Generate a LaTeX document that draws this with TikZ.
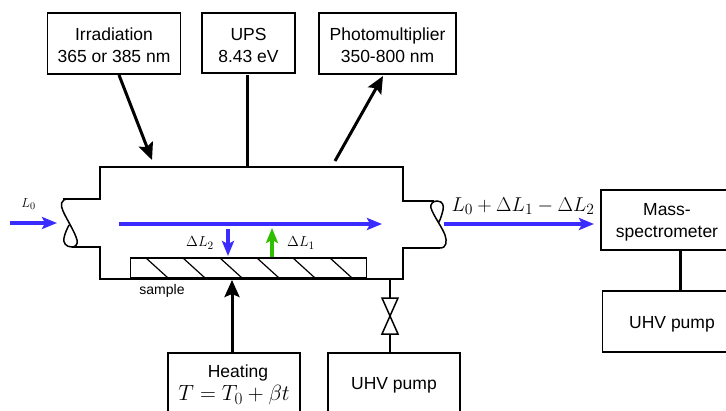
\documentclass[tikz,border=0pt]{standalone}
\usepackage{fix-cm}
\usepackage[no-math]{fontspec}
\setmainfont{Liberation Sans}
\usetikzlibrary{arrows.meta}
\renewcommand{\defaultscriptratio}{.78}
\newcommand{\topstrut}{\rule{0pt}{17pt}}
\definecolor{beamblue}{RGB}{58,44,255}
\definecolor{beamgreen}{RGB}{48,190,0}
\tikzset{
        unitbox/.style={draw, line width=1.7pt, align=center, inner sep=0pt, font=\fontsize{17.5}{22}\selectfont},
        wall/.style={line width=1.7pt},
        feed/.style={line width=3pt},
        feedarrow/.style={line width=3pt, -{Stealth[length=17pt, width=15pt, inset=3pt]}},
        beam/.style={beamblue, line width=4pt, -{Stealth[length=15pt, width=12pt, inset=3pt]}},
        smallbeam/.style={line width=4pt, -{Stealth[length=15pt, width=12pt, inset=3pt]}},
        symbol/.style={inner sep=0pt, font=\fontsize{14.5}{18}\selectfont}
}
\begin{document}
\begin{tikzpicture}[x=1pt, y=-1pt]
        \clip (0, 0) rectangle (726, 410);
        \node [unitbox, minimum width=133pt, minimum height=61pt] (irradiation) at (114, 43.5) {\topstrut Irradiation\\365 or 385 nm};
        \node [unitbox, minimum width=93pt, minimum height=60pt] (ups) at (248.5, 43) {\topstrut UPS\\8.43 eV};
        \node [unitbox, minimum width=137pt, minimum height=61pt] (photomultiplier) at (387.5, 43.5) {\topstrut Photomultiplier\\350-800 nm};
        \node [unitbox, minimum width=132pt, minimum height=60pt] (massspec) at (667, 220) {\topstrut Mass-\\spectrometer};
        \node [unitbox, minimum width=139pt, minimum height=60.5pt] (pumpright) at (672, 321.5) {\topstrut UHV pump};
        \node [unitbox, minimum width=132pt, minimum height=60pt] (heating) at (234, 383) {\topstrut\hspace{8pt}Heating\\[1pt]{\fontsize{22}{24}\selectfont$T = T_0 + \beta t$}};
        \node [unitbox, minimum width=132pt, minimum height=60pt] (pumpbottom) at (394, 383) {\topstrut UHV pump};

        \draw [wall] (63, 199) -- (100, 199) -- (100, 167) -- (403, 167) -- (403, 201) -- (434, 201);
        \draw [wall] (72, 247) -- (100, 247) -- (100, 279) -- (403, 279) -- (403, 248) -- (440, 248);
        \draw [line width=1.5pt] (68, 199) .. controls (61, 199) and (60, 205) .. (63, 211)
                .. controls (67, 220) and (75, 232) .. (77, 240)
                .. controls (78, 245) and (75, 247) .. (72, 247)
                .. controls (66, 247) and (63, 243) .. (64, 238)
                .. controls (65, 233) and (67, 229) .. (69, 225);
        \draw [line width=1.5pt] (440, 248) .. controls (447, 248) and (447, 241) .. (445, 235)
                .. controls (442, 227) and (433, 215) .. (431, 208)
                .. controls (430, 204) and (433, 201) .. (437, 201)
                .. controls (443, 201) and (444, 206) .. (443, 210)
                .. controls (442, 214) and (441, 218) .. (439, 222);

        \node [draw, line width=1.5pt, minimum width=236pt, minimum height=19.5pt, inner sep=0pt] (sample) at (248.5, 267.75) {};
        \foreach \x in {146, 183, 220, 257, 293, 330}{
                        \draw [line width=1.2pt] (\x, 258) -- ({\x+21.5}, 277.5);
                }
        \node [inner sep=0pt, font=\fontsize{14}{16}\selectfont] (samplelabel) at (162, 291) {sample};

        \coordinate (leftin) at (10, 223);
        \coordinate (leftend) at (57, 223);
        \coordinate (beamstart) at (119, 224);
        \coordinate (beamend) at (382, 224);
        \coordinate (rightstart) at (444, 224);
        \coordinate (rightend) at (594, 224);
        \coordinate (lossstart) at (228, 229);
        \coordinate (lossend) at (228, 256);
        \coordinate (gainstart) at (272, 257);
        \coordinate (gainend) at (272, 228);
        \draw [beam] (leftin) -- (leftend);
        \draw [beam] (beamstart) -- (beamend);
        \draw [beam] (rightstart) -- (rightend);
        \draw [smallbeam, beamblue] (lossstart) -- (lossend);
        \draw [smallbeam, beamgreen] (gainstart) -- (gainend);

        \node [symbol, font=\fontsize{13}{16}\selectfont] (inlabel) at (28.5, 204) {$L_0$};
        \node [symbol] (losslabel) at (200, 243) {$\Delta L_2$};
        \node [symbol] (gainlabel) at (301, 243) {$\Delta L_1$};
        \node [symbol, font=\fontsize{20}{22}\selectfont] (outlabel) at (523, 206) {$L_0 + \Delta L_1 - \Delta L_2$};

        \coordinate (irradiationend) at (152, 160);
        \coordinate (irradiationstart) at (119, 75);
        \coordinate (photostart) at (335, 161);
        \coordinate (photoend) at (383, 76);
        \coordinate (upsstart) at (247, 75);
        \coordinate (upsend) at (247, 167);
        \coordinate (heatingstart) at (232, 353);
        \coordinate (heatingend) at (232, 280);
        \coordinate (massend) at (680, 250);
        \coordinate (pumpend) at (680, 291);
        \draw [feedarrow] (irradiationstart) -- (irradiationend);
        \draw [feedarrow] (photostart) -- (photoend);
        \draw [feed] (upsstart) -- (upsend);
        \draw [feedarrow] (heatingstart) -- (heatingend);
        \draw [feed] (massend) -- (pumpend);

        \coordinate (valvetop) at (390, 298);
        \coordinate (valvebottom) at (390, 334);
        \draw [wall] (390, 279) -- (valvetop);
        \draw [wall] (valvebottom) -- (390, 353);
        \draw [line width=1.5pt] (382, 298) -- (398, 298) -- (382, 334) -- (398, 334) -- cycle;
    \end{tikzpicture}
\end{document}
